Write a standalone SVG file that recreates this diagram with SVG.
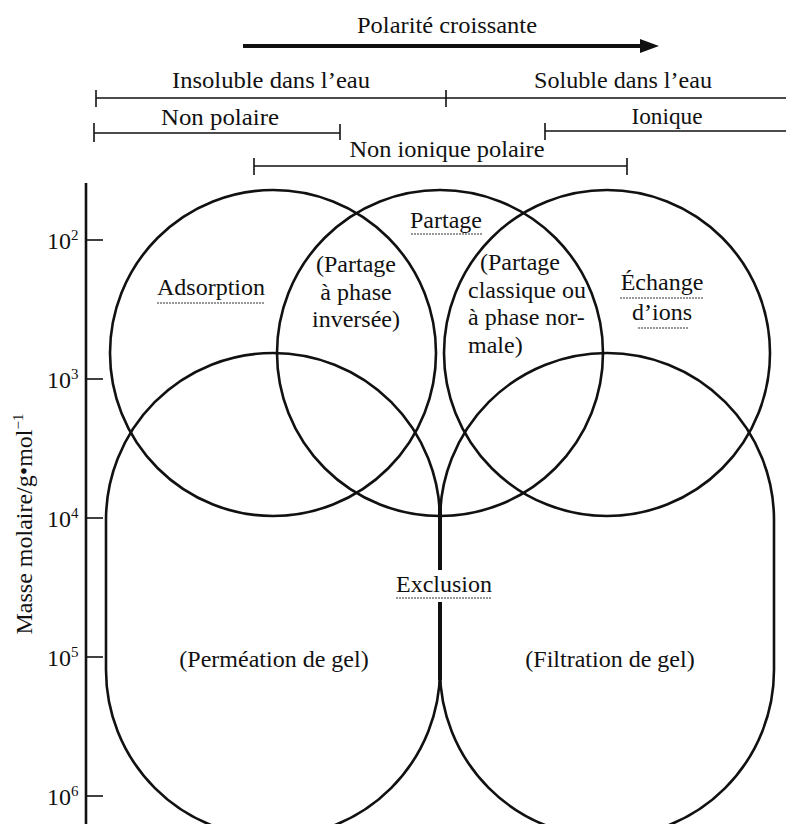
<svg xmlns="http://www.w3.org/2000/svg" width="786" height="824" viewBox="0 0 786 824">
<style>
text{font-family:"Liberation Serif","Times New Roman",serif;font-size:24px;fill:#111}
.c{text-anchor:middle}
.ln{stroke:#111;stroke-width:1.6;fill:none}
.sh{stroke:#111;stroke-width:2.6;fill:none}
.ul{stroke:#333;stroke-width:1;stroke-dasharray:2 1}
</style>
<rect width="786" height="824" fill="#fff"/>
<g id="polarite">
<text class="c" x="447" y="33" textLength="180" lengthAdjust="spacingAndGlyphs">Polarité croissante</text>
<line x1="243" y1="46" x2="642" y2="46" stroke="#111" stroke-width="4"/>
<polygon points="640,39 659,46 640,53" fill="#111"/>
</g>
<g id="scales">
<text class="c" x="271" y="88" textLength="198" lengthAdjust="spacingAndGlyphs">Insoluble dans l’eau</text>
<text class="c" x="623" y="88" textLength="178" lengthAdjust="spacingAndGlyphs">Soluble dans l’eau</text>
<line class="ln" x1="96" y1="98" x2="786" y2="98"/>
<line class="ln" x1="96" y1="90" x2="96" y2="107"/>
<line class="ln" x1="446" y1="90" x2="446" y2="107"/>
<text class="c" x="220" y="125" textLength="118" lengthAdjust="spacingAndGlyphs">Non polaire</text>
<line class="ln" x1="94" y1="133" x2="340" y2="133"/>
<line class="ln" x1="94" y1="123" x2="94" y2="142"/>
<line class="ln" x1="340" y1="124" x2="340" y2="140"/>
<text class="c" x="667" y="124" textLength="71" lengthAdjust="spacingAndGlyphs">Ionique</text>
<line class="ln" x1="545" y1="131" x2="786" y2="131"/>
<line class="ln" x1="545" y1="123" x2="545" y2="140"/>
<text class="c" x="447" y="157" textLength="195" lengthAdjust="spacingAndGlyphs">Non ionique polaire</text>
<line class="ln" x1="254" y1="166" x2="627" y2="166"/>
<line class="ln" x1="254" y1="158" x2="254" y2="175"/>
<line class="ln" x1="627" y1="158" x2="627" y2="175"/>
</g>
<g id="axis">
<line class="sh" x1="86" y1="183" x2="86" y2="824"/>
<g class="ln">
<line x1="86" y1="240" x2="103" y2="240"/>
<line x1="86" y1="379" x2="103" y2="379"/>
<line x1="86" y1="518" x2="103" y2="518"/>
<line x1="86" y1="657" x2="103" y2="657"/>
<line x1="86" y1="796" x2="103" y2="796"/>
</g>
<g font-size="22">
<text x="47" y="249" font-size="22">10<tspan dy="-9" font-size="15">2</tspan></text>
<text x="47" y="388" font-size="22">10<tspan dy="-9" font-size="15">3</tspan></text>
<text x="47" y="527" font-size="22">10<tspan dy="-9" font-size="15">4</tspan></text>
<text x="47" y="666" font-size="22">10<tspan dy="-9" font-size="15">5</tspan></text>
<text x="47" y="805" font-size="22">10<tspan dy="-9" font-size="15">6</tspan></text>
</g>
<text class="c" transform="translate(32,524) rotate(-90)">Masse molaire/g•mol<tspan dy="-9" font-size="15">−1</tspan></text>
</g>
<g id="adsorption">
<circle class="sh" cx="273" cy="353" r="163"/>
<text class="c" x="211" y="295">Adsorption</text>
<line class="ul" x1="157" y1="303" x2="265" y2="303"/>
</g>
<g id="partage">
<circle class="sh" cx="440" cy="353" r="163"/>
<text class="c" x="446" y="228">Partage</text>
<line class="ul" x1="411" y1="234" x2="482" y2="234"/>
<text class="c" x="356" y="272">(Partage</text>
<text class="c" x="356" y="300">à phase</text>
<text class="c" x="356" y="327">inversée)</text>
<text x="480" y="270">(Partage</text>
<text x="468" y="298">classique ou</text>
<text x="468" y="325">à phase nor-</text>
<text x="468" y="353">male)</text>
</g>
<g id="echange">
<circle class="sh" cx="607" cy="353" r="163"/>
<text class="c" x="662" y="290">Échange</text>
<line class="ul" x1="620" y1="298" x2="704" y2="298"/>
<text class="c" x="662" y="320">d’ions</text>
<line class="ul" x1="638" y1="328" x2="688" y2="328"/>
</g>
<g id="permeation">
<path class="sh" d="M440 520 A167 167 0 0 0 106 520 L106 670 A167 167 0 0 0 440 670"/>
<text class="c" x="274" y="667">(Perméation de gel)</text>
</g>
<g id="filtration">
<path class="sh" d="M440 670 A167 167 0 0 0 774 670 L774 520 A167 167 0 0 0 440 520"/>
<text class="c" x="610" y="667">(Filtration de gel)</text>
</g>
<g id="exclusion">
<text class="c" x="444" y="592">Exclusion</text>
<line class="ul" x1="396" y1="598" x2="492" y2="598"/>
</g>
<g id="connectors">
<line x1="440" y1="503" x2="440" y2="570" stroke="#111" stroke-width="4"/>
<line x1="440" y1="602" x2="440" y2="680" stroke="#111" stroke-width="4"/>
</g>
</svg>
